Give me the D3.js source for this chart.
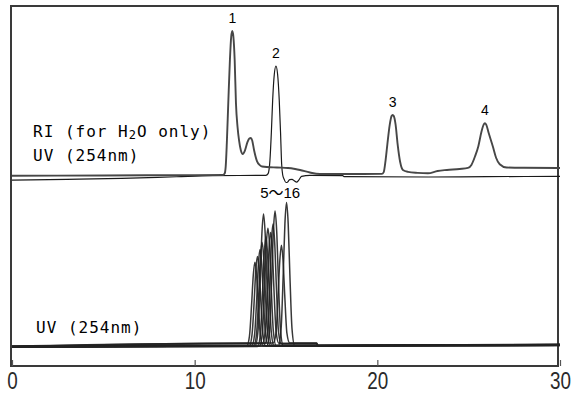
<!DOCTYPE html>
<html>
<head>
<meta charset="utf-8">
<script src="https://cdn.jsdelivr.net/npm/d3@7"></script>
<style>
  body { margin: 0; background: #fff; }
  svg { display: block; }
</style>
</head>
<body>
<div id="main"></div>
<script>
// retention time (min), signal (arbitrary units)

// upper panel: RI trace (peaks 1-4)
const riTrace = [
  [0,-0.5],[5,-0.3],[10,-0.1],[11.55,0],[11.64,1],[11.70,6],[11.76,22],[11.84,50],[11.93,80],
  [12.00,96],[12.06,100],[12.12,96],[12.19,80],[12.26,50],[12.35,33],[12.43,24],[12.53,17],
  [12.63,14.6],[12.75,17],[12.88,22.5],[13.00,25.5],[13.07,25.7],[13.15,24],[13.25,17.4],
  [13.41,9.7],[13.55,7],[13.69,5.9],[14.5,5.2],[15.11,4.9],[15.5,4.2],[15.77,3.5],[16.31,1.7],
  [16.86,0.7],[18.5,0.7],[20.25,0.8],[20.35,2],[20.45,10],[20.55,21.5],[20.68,35],[20.78,41],
  [20.84,41.7],[20.90,41],[21.00,35],[21.11,21.5],[21.25,9],[21.40,3.5],[21.68,2.2],[22.2,1.5],
  [22.77,1.2],[23.3,2.8],[23.81,3.5],[24.5,4.2],[24.96,4.9],[25.15,7],[25.35,13],[25.53,20],
  [25.70,30],[25.82,35],[25.89,35.9],[25.96,35],[26.10,29],[26.32,20],[26.50,12],[26.70,7.5],
  [27.08,5.2],[28,5],[30,4.9]
];

// upper panel: UV 254nm trace
const uvTop = [
  [0,-3.5],[3,-3],[6,-2.3],[9,-1.2],[11,-0.5],[13.9,-0.2],[14.02,1],[14.12,10],[14.20,30],
  [14.27,52],[14.36,70],[14.45,75.7],[14.54,70],[14.63,52],[14.70,30],[14.76,8],[14.82,0],
  [14.90,-3],[15.00,-5.2],[15.08,-5],[15.20,-3.2],[15.33,-3],[15.45,-4],[15.58,-5],[15.70,-3.5],
  [15.85,-1],[16.31,-0.3],[18.1,-0.5],[18.2,-1.1],[22.8,-1.4],[26,-1.1],[30,-1]
];

// lower panel: UV 254nm, one run per compound 5-16
const uv5  = [[0,-0.4],[12.85,0],[13.00,7],[13.12,30],[13.21,50],[13.30,59],[13.39,50],[13.48,30],[13.60,7],[13.75,0.2],[30,0.5]];
const uv6  = [[0,-0.8],[12.99,-0.2],[13.14,8],[13.26,32],[13.35,54],[13.44,63],[13.53,54],[13.62,32],[13.74,8],[13.89,0],[30,0.9]];
const uv7  = [[0,-0.2],[13.13,0.3],[13.28,8],[13.40,34],[13.49,58],[13.58,68],[13.67,58],[13.76,34],[13.88,8],[14.03,0.4],[30,1.1]];
const uv8  = [[0,-0.6],[13.24,0],[13.39,9],[13.51,37],[13.60,62],[13.69,73],[13.78,62],[13.87,37],[13.99,9],[14.14,0],[30,0.3]];
const uv9  = [[0,-0.1],[13.32,0.4],[13.47,11],[13.59,47],[13.68,79],[13.77,93],[13.86,79],[13.95,47],[14.07,11],[14.22,0.5],[30,0.8]];
const uv10 = [[0,-0.9],[13.45,-0.3],[13.60,9],[13.72,39],[13.81,65],[13.90,77],[13.99,65],[14.08,39],[14.20,9],[14.35,0],[30,0.6]];
const uv11 = [[0,-0.5],[13.56,0],[13.71,10],[13.83,42],[13.92,71],[14.01,83],[14.10,71],[14.19,42],[14.31,10],[14.46,0.2],[30,1.3]];
const uv12 = [[0,-0.3],[13.03,1.9],[13.71,1.9],[13.86,10],[13.98,40],[14.07,68],[14.16,80],[14.25,68],[14.34,40],[14.46,10],[14.61,1.9],[16.68,1.9],[16.75,0.2],[30,0.9]];
const uv13 = [[0,-0.7],[13.03,1.6],[13.84,1.6],[13.99,10],[14.11,43],[14.20,73],[14.29,86],[14.38,73],[14.47,43],[14.59,10],[14.74,1.6],[16.68,1.6],[16.75,-0.1],[30,0.4]];
const uv14 = [[0,-0.4],[13.95,0],[14.10,11],[14.22,48],[14.31,81],[14.40,95],[14.49,81],[14.58,48],[14.70,11],[14.85,0.3],[30,1.0]];
const uv15 = [[0,-0.2],[13.03,2.1],[14.30,2.1],[14.45,9],[14.57,36],[14.66,60],[14.75,71],[14.84,60],[14.93,36],[15.05,9],[15.20,2.1],[16.68,2.1],[16.75,0.4],[30,0.7]];
const uv16 = [[0,-0.6],[14.58,0],[14.73,12],[14.85,51],[14.94,86],[15.03,101],[15.12,86],[15.21,51],[15.33,12],[15.48,0.1],[30,0.5]];
const lowerRuns = [uv5, uv6, uv7, uv8, uv9, uv10, uv11, uv12, uv13, uv14, uv15, uv16];

const xTicks = [0, 10, 20, 30];
const peakLabels = [
  {text: "1", t: 12.06, v: 100},
  {text: "2", t: 14.45, v: 75.7},
  {text: "3", t: 20.84, v: 41.7},
  {text: "4", t: 25.89, v: 35.9}
];

const width = 577, height = 395;

const svg = d3.select("#main")
  .append("svg")
    .attr("width", width)
    .attr("height", height);

const x = d3.scaleLinear().domain([0, 30]).range([12, 560]);
const yTop = d3.scaleLinear().domain([0, 100]).range([175, 31]);
const yBot = d3.scaleLinear().domain([0, 100]).range([346, 204]);

// frame
svg.append("rect")
  .attr("x", 11).attr("y", 6)
  .attr("width", 547).attr("height", 360)
  .attr("fill", "none")
  .attr("stroke", "#3a3a3a")
  .attr("stroke-width", 2);

// x axis: short inner ticks + condensed labels
const xAxis = d3.axisBottom(x)
  .tickValues(xTicks)
  .tickSize(-6)
  .tickPadding(7);

const gx = svg.append("g")
  .attr("transform", `translate(0, 366)`)
  .call(xAxis);
gx.select(".domain").remove();
gx.selectAll("line").attr("stroke", "#555").attr("stroke-width", 1.2);
gx.selectAll("text")
  .attr("fill", "#2a2a2a")
  .attr("font-family", "'Liberation Sans', Arial, sans-serif")
  .attr("font-size", 23)
  .attr("transform", "scale(0.82,1)");

const lineTop = d3.line()
  .x(function(d) { return x(d[0]); })
  .y(function(d) { return yTop(d[1]); })
  .curve(d3.curveMonotoneX);

const lineBot = d3.line()
  .x(function(d) { return x(d[0]); })
  .y(function(d) { return yBot(d[1]); })
  .curve(d3.curveMonotoneX);

svg.append("path")
  .datum(uvTop)
  .attr("d", lineTop)
  .attr("fill", "none")
  .attr("stroke", "#1a1a1a")
  .attr("stroke-width", 1.2);

svg.append("path")
  .datum(riTrace)
  .attr("d", lineTop)
  .attr("fill", "none")
  .attr("stroke", "#474747")
  .attr("stroke-width", 1.9);

svg.selectAll(".lowerRun")
  .data(lowerRuns)
  .join("path")
    .attr("class", "lowerRun")
    .attr("d", lineBot)
    .attr("fill", "none")
    .attr("stroke", "#222")
    .attr("stroke-opacity", 0.9)
    .attr("stroke-width", 1.5);

// peak numbers
svg.selectAll(".peakLabel")
  .data(peakLabels)
  .join("text")
    .attr("class", "peakLabel")
    .attr("x", function(d) { return x(d.t); })
    .attr("y", function(d) { return yTop(d.v) - 8; })
    .attr("text-anchor", "middle")
    .attr("font-family", "'Liberation Sans', Arial, sans-serif")
    .attr("font-size", 14)
    .attr("fill", "#000")
    .text(function(d) { return d.text; });

svg.append("text")
  .attr("x", x(14.68))
  .attr("y", 198)
  .attr("text-anchor", "middle")
  .attr("font-family", "'Liberation Sans', 'Noto Sans CJK JP', sans-serif")
  .attr("font-size", 15)
  .attr("fill", "#000")
  .text("5〜16");

// detector labels
const mono = "'DejaVu Sans Mono', monospace";
const ri = svg.append("text")
  .attr("x", 33).attr("y", 137)
  .attr("font-family", mono)
  .attr("font-size", 16)
  .attr("letter-spacing", 1)
  .attr("fill", "#000");
ri.append("tspan").text("RI (for H");
ri.append("tspan").attr("font-size", 12).attr("dy", 2).text("2");
ri.append("tspan").attr("dy", -2).text("O only)");

svg.append("text")
  .attr("x", 33).attr("y", 161)
  .attr("font-family", mono)
  .attr("font-size", 16)
  .attr("letter-spacing", 1)
  .attr("fill", "#000")
  .text("UV (254nm)");

svg.append("text")
  .attr("x", 36).attr("y", 333)
  .attr("font-family", mono)
  .attr("font-size", 16)
  .attr("letter-spacing", 1)
  .attr("fill", "#000")
  .text("UV (254nm)");
</script>
</body>
</html>
